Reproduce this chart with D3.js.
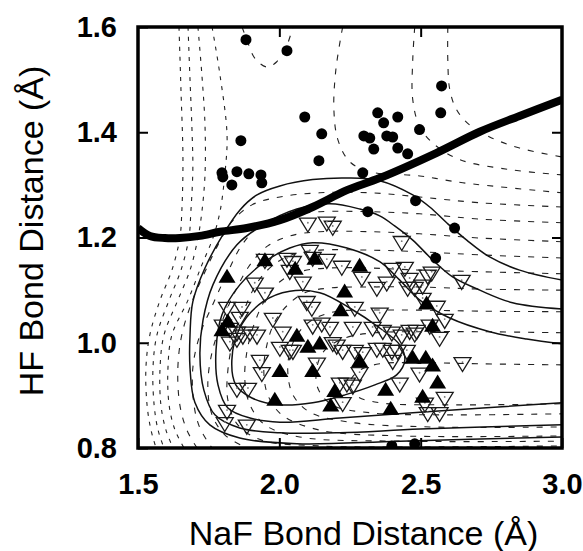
<!DOCTYPE html>
<html>
<head>
<meta charset="utf-8">
<script src="https://cdn.jsdelivr.net/npm/d3@7"></script>
<style>
  body { margin: 0; background: #fff; }
  svg { display: block; }
</style>
</head>
<body>
<svg id="chart"></svg>
<script>
// axis ticks
const xTicks = [1.5, 2.0, 2.5, 3.0];
const yTicks = [0.8, 1.0, 1.2, 1.4, 1.6];

// dividing surface (thick line), [NaF, HF] in Angstrom
const dividingLine = [[1.500,1.218],[1.542,1.203],[1.595,1.199],[1.648,1.199],[1.719,1.203],[1.790,1.211],[1.885,1.218],[2.002,1.233],[2.118,1.258],[2.239,1.290],[2.355,1.313],[2.557,1.361],[2.709,1.401],[2.850,1.431],[3.000,1.462]];

// solid contours
const solidA = [[3.000,1.119],[2.850,1.138],[2.744,1.163],[2.663,1.195],[2.592,1.228],[2.532,1.258],[2.472,1.281],[2.355,1.308],[2.239,1.313],[2.118,1.310],[2.002,1.298],[1.921,1.281],[1.860,1.252],[1.800,1.205],[1.737,1.142],[1.694,1.078],[1.684,1.015],[1.684,0.952],[1.701,0.887],[1.754,0.844],[1.860,0.819],[2.062,0.808],[2.426,0.813],[3.000,0.821]];
const solidB = [[3.000,1.064],[2.825,1.076],[2.709,1.100],[2.613,1.125],[2.543,1.157],[2.472,1.195],[2.408,1.222],[2.355,1.241],[2.285,1.254],[2.179,1.264],[2.062,1.254],[1.942,1.224],[1.850,1.186],[1.765,1.110],[1.730,1.043],[1.719,0.977],[1.733,0.910],[1.772,0.863],[1.860,0.838],[2.002,0.829],[2.214,0.829],[2.497,0.836],[3.000,0.844]];
const solidC = [[3.000,0.998],[2.875,1.007],[2.744,1.021],[2.603,1.047],[2.497,1.081],[2.426,1.119],[2.355,1.154],[2.239,1.180],[2.118,1.190],[2.037,1.180],[1.949,1.154],[1.860,1.110],[1.797,1.053],[1.776,0.986],[1.783,0.920],[1.818,0.876],[1.896,0.857],[2.002,0.849],[2.214,0.857],[2.497,0.868],[3.000,0.886]];
const solidLoop = [[1.846,0.920],[1.832,0.967],[1.860,1.028],[1.942,1.078],[2.037,1.098],[2.143,1.095],[2.249,1.066],[2.355,1.028],[2.426,0.996],[2.444,0.967],[2.415,0.939],[2.338,0.920],[2.232,0.901],[2.118,0.886],[2.002,0.882],[1.903,0.895]];

// dashed contours
const dashTopU = [[1.868,1.600],[1.885,1.576],[1.913,1.541],[1.956,1.524],[1.991,1.534],[2.023,1.560],[2.048,1.600]];
const dashUA = [[2.596,1.600],[2.596,1.538],[2.603,1.481],[2.627,1.443],[2.673,1.414],[2.744,1.391],[2.850,1.370],[3.000,1.353]];
const dashUB = [[2.479,1.600],[2.472,1.538],[2.472,1.462],[2.497,1.410],[2.550,1.376],[2.638,1.348],[2.815,1.329],[3.000,1.319]];
const dashUC = [[2.224,1.600],[2.200,1.519],[2.193,1.443],[2.207,1.386],[2.249,1.344],[2.320,1.325],[2.497,1.317],[2.649,1.304],[3.000,1.285]];
const dashCol1 = [[1.645,1.600],[1.652,1.481],[1.659,1.348],[1.655,1.249],[1.648,1.199],[1.620,1.138],[1.578,1.081],[1.542,1.015],[1.528,0.952],[1.532,0.882],[1.546,0.834],[1.564,0.800]];
const dashCol2 = [[1.677,1.600],[1.684,1.500],[1.691,1.405],[1.694,1.329],[1.687,1.249],[1.680,1.199],[1.652,1.138],[1.610,1.081],[1.567,1.015],[1.553,0.952],[1.557,0.882],[1.571,0.834],[1.592,0.800]];
const dashCol3 = [[1.712,1.600],[1.726,1.509],[1.737,1.414],[1.737,1.319],[1.726,1.249],[1.712,1.199],[1.684,1.138],[1.641,1.081],[1.592,1.015],[1.578,0.952],[1.581,0.882],[1.599,0.834],[1.624,0.800]];
const dashCol4 = [[1.762,1.600],[1.790,1.509],[1.815,1.395],[1.807,1.319],[1.790,1.249],[1.765,1.199],[1.726,1.148],[1.677,1.081],[1.620,1.015],[1.606,0.952],[1.610,0.882],[1.631,0.834],[1.663,0.800]];
const dashK8 = [[3.000,1.258],[2.709,1.266],[2.497,1.277],[2.320,1.285],[2.143,1.285],[2.002,1.277],[1.903,1.262],[1.832,1.230],[1.783,1.186],[1.737,1.135],[1.691,1.078],[1.655,1.015],[1.641,0.952],[1.648,0.882],[1.673,0.834],[1.709,0.800]];
const dashK7 = [[3.000,1.228],[2.709,1.235],[2.497,1.245],[2.320,1.249],[2.143,1.249],[2.019,1.241],[1.931,1.222],[1.868,1.186],[1.818,1.135],[1.769,1.078],[1.719,1.015],[1.694,0.952],[1.698,0.882],[1.719,0.838],[1.762,0.800]];
const dashK6 = [[3.000,1.192],[2.709,1.199],[2.497,1.207],[2.320,1.211],[2.143,1.211],[2.037,1.203],[1.959,1.184],[1.896,1.148],[1.843,1.097],[1.797,1.040],[1.762,0.982],[1.747,0.920],[1.762,0.863],[1.807,0.825],[1.878,0.802]];
const dashK5 = [[3.000,1.161],[2.709,1.167],[2.497,1.173],[2.320,1.176],[2.143,1.176],[2.055,1.169],[1.984,1.150],[1.924,1.116],[1.878,1.066],[1.839,1.009],[1.818,0.948],[1.818,0.891],[1.853,0.844],[1.938,0.815],[2.143,0.804],[2.497,0.802],[3.000,0.804]];
const dashK4 = [[3.000,1.131],[2.709,1.135],[2.497,1.138],[2.320,1.142],[2.179,1.142],[2.072,1.135],[2.002,1.116],[1.949,1.081],[1.910,1.034],[1.885,0.982],[1.878,0.929],[1.896,0.882],[1.949,0.844],[2.072,0.821],[2.426,0.813],[3.000,0.813]];
const dashK3 = [[3.000,1.100],[2.709,1.102],[2.497,1.106],[2.320,1.106],[2.179,1.104],[2.090,1.095],[2.030,1.072],[1.984,1.040],[1.956,0.996],[1.945,0.948],[1.959,0.901],[2.009,0.863],[2.143,0.834],[2.426,0.823],[3.000,0.823]];
const dashK2 = [[3.000,1.059],[2.709,1.060],[2.497,1.062],[2.320,1.062],[2.196,1.059],[2.115,1.043],[2.065,1.017],[2.037,0.982],[2.030,0.944],[2.048,0.901],[2.108,0.868],[2.249,0.849],[2.532,0.840],[3.000,0.840]];
const dashK1 = [[3.000,1.019],[2.709,1.021],[2.497,1.021],[2.338,1.019],[2.232,1.009],[2.161,0.986],[2.133,0.954],[2.136,0.914],[2.186,0.882],[2.320,0.867],[2.567,0.863],[3.000,0.865]];
const dashK0 = [[3.000,0.958],[2.709,0.960],[2.497,0.962],[2.355,0.960],[2.285,0.948],[2.249,0.924],[2.274,0.899],[2.355,0.886],[2.603,0.882],[3.000,0.884]];

// trajectory end points
const dotPts = [[1.882,1.576],[2.027,1.555],[2.090,1.429],[2.150,1.397],[1.864,1.384],[2.140,1.346],[1.797,1.323],[1.800,1.315],[1.850,1.325],[1.832,1.300],[1.892,1.321],[1.935,1.319],[1.938,1.304],[2.295,1.323],[2.348,1.437],[2.299,1.393],[2.320,1.389],[2.334,1.368],[2.574,1.488],[2.571,1.437],[2.496,1.405],[2.419,1.429],[2.369,1.418],[2.380,1.393],[2.401,1.391],[2.419,1.370],[2.454,1.359],[2.313,1.249],[2.482,1.270],[2.620,1.218],[2.553,1.161],[2.398,0.804],[2.479,0.808]];

const openTriPts = [[2.101,1.228],[2.168,1.230],[2.189,1.222],[2.433,1.193],
  [1.949,1.159],[2.027,1.161],[2.048,1.155],[2.108,1.176],[2.118,1.163],[2.168,1.159],[2.221,1.146],[2.037,1.138],[2.083,1.116],[1.913,1.114],[1.949,1.095],
  [2.292,1.125],[2.345,1.106],[2.401,1.142],[2.444,1.144],[2.461,1.123],[2.479,1.106],[2.507,1.110],[2.525,1.129],[2.539,1.135],[2.454,1.106],[2.380,1.116],[2.645,1.119],
  [2.267,1.068],[2.355,1.057],[2.507,1.085],[2.557,1.070],[2.585,1.045],[2.567,1.011],
  [1.815,1.068],[1.868,1.068],[1.860,1.049],[1.977,1.047],[2.012,1.021],[2.097,1.079],[2.115,1.068],[2.150,1.038],[2.118,1.034],[2.179,1.030],
  [1.800,1.034],[1.825,1.028],[1.850,1.021],[1.871,1.015],[1.896,1.021],[1.921,1.015],[1.825,1.002],[1.850,1.009],
  [2.048,0.986],[2.203,0.996],[2.224,0.986],[1.931,0.967],[1.938,0.944],
  [2.260,1.030],[2.330,1.030],[2.366,1.024],[2.398,1.021],[2.433,1.015],[2.461,1.024],[2.486,1.024],[2.532,1.034],[2.479,1.019],
  [2.267,0.986],[2.295,0.982],[2.345,0.990],[2.366,0.990],[2.398,0.986],[2.419,0.986],[2.451,0.986],[2.401,0.967],
  [2.002,0.992],[2.037,0.986],[2.133,0.962],[2.284,0.944],[2.189,1.001],
  [2.496,0.943],[2.648,0.963],[2.239,0.924],[2.260,0.920],[2.426,0.924],[2.585,0.897],[2.525,0.868],[2.567,0.868],[2.224,0.887],
  [1.850,0.914],[1.889,0.914],[1.815,0.872],[1.807,0.849],[1.885,0.844],[2.214,0.924],[2.515,0.886]];

const fillTriPts = [[1.949,1.154],[1.815,1.123],[2.056,1.138],[2.126,1.157],[2.284,1.144],[2.231,1.095],[2.217,1.059],[1.797,1.021],[1.818,1.038],[2.062,1.011],[2.101,0.990],[2.143,0.996],[2.002,0.944],[2.118,0.944],[1.984,0.889],[2.182,0.878],[2.196,0.906],[2.284,0.963],[2.472,0.969],[2.518,0.969],[2.542,0.954],[2.521,1.072],[2.542,1.030],[2.376,0.908],[2.560,0.922],[2.507,0.895],[2.394,0.872]];

const solidLines = [solidA, solidB, solidC];
const rightDashes = [dashTopU, dashUA, dashUB, dashUC, dashK8, dashK7, dashK6, dashK5, dashK4, dashK3, dashK2, dashK1, dashK0];
const wallDashes = [dashCol1, dashCol2, dashCol3, dashCol4];

function drawChart() {
    const width = 583, height = 551;
    const plot = { left: 138, right: 562, top: 27, bottom: 448 };
    const font = "'Liberation Sans', Arial, Helvetica, sans-serif";

    const svg = d3.select("#chart")
        .attr("width", width)
        .attr("height", height)
        .style("font-family", font);

    const x = d3.scaleLinear().domain([1.5, 3.0]).range([plot.left, plot.right]);
    const y = d3.scaleLinear().domain([0.8, 1.6]).range([plot.bottom, plot.top]);

    svg.append("clipPath").attr("id", "clip")
        .append("rect")
        .attr("x", plot.left).attr("y", plot.top)
        .attr("width", plot.right - plot.left)
        .attr("height", plot.bottom - plot.top);

    const g = svg.append("g").attr("clip-path", "url(#clip)");

    const line = d3.line()
        .x(d => x(d[0]))
        .y(d => y(d[1]))
        .curve(d3.curveCatmullRom.alpha(0.5));
    const loop = d3.line()
        .x(d => x(d[0]))
        .y(d => y(d[1]))
        .curve(d3.curveCatmullRomClosed.alpha(0.5));

    // dashed contours
    g.selectAll(".dash-r")
        .data(rightDashes)
        .enter().append("path")
        .attr("d", line)
        .attr("fill", "none")
        .attr("stroke", "#222")
        .attr("stroke-width", 1.1)
        .attr("stroke-dasharray", "6,8");

    g.selectAll(".dash-w")
        .data(wallDashes)
        .enter().append("path")
        .attr("d", line)
        .attr("fill", "none")
        .attr("stroke", "#222")
        .attr("stroke-width", 1.1)
        .attr("stroke-dasharray", "4,6");

    // solid contours
    g.selectAll(".solid")
        .data(solidLines)
        .enter().append("path")
        .attr("d", line)
        .attr("fill", "none")
        .attr("stroke", "#111")
        .attr("stroke-width", 1.5);

    g.append("path")
        .attr("d", loop(solidLoop))
        .attr("fill", "none")
        .attr("stroke", "#111")
        .attr("stroke-width", 1.5);

    // dividing surface
    g.append("path")
        .attr("d", line(dividingLine))
        .attr("fill", "none")
        .attr("stroke", "#000")
        .attr("stroke-width", 8);

    // open down-pointing triangles
    const hw = 8.5, th = 14;
    const downTri = d => {
        const cx = x(d[0]), cy = y(d[1]);
        return `M${cx - hw},${cy - th / 3}L${cx + hw},${cy - th / 3}L${cx},${cy + 2 * th / 3}Z`;
    };
    const upTri = d => {
        const cx = x(d[0]), cy = y(d[1]);
        return `M${cx - hw},${cy + th / 3}L${cx + hw},${cy + th / 3}L${cx},${cy - 2 * th / 3}Z`;
    };

    g.selectAll(".open-tri")
        .data(openTriPts)
        .enter().append("path")
        .attr("d", downTri)
        .attr("fill", "none")
        .attr("stroke", "#1a1a1a")
        .attr("stroke-width", 1.3)
        .attr("stroke-linejoin", "miter");

    g.selectAll(".open-dot")
        .data(openTriPts)
        .enter().append("circle")
        .attr("cx", d => x(d[0]))
        .attr("cy", d => y(d[1]))
        .attr("r", 0.9)
        .attr("fill", "#777");

    g.selectAll(".fill-tri")
        .data(fillTriPts)
        .enter().append("path")
        .attr("d", upTri)
        .attr("fill", "#000");

    g.selectAll(".dot")
        .data(dotPts)
        .enter().append("circle")
        .attr("cx", d => x(d[0]))
        .attr("cy", d => y(d[1]))
        .attr("r", 5.5)
        .attr("fill", "#000");

    // axes with inward ticks
    const fmt = d3.format(".1f");
    const inner = [2.0, 2.5];
    const innerY = [1.0, 1.2, 1.4];

    const xAxis = svg.append("g")
        .attr("transform", `translate(0,${plot.bottom})`)
        .call(d3.axisBottom(x).tickValues(xTicks).tickFormat(fmt).tickSize(-10).tickPadding(25));
    const yAxis = svg.append("g")
        .attr("transform", `translate(${plot.left},0)`)
        .call(d3.axisLeft(y).tickValues(yTicks).tickFormat(fmt).tickSize(-10).tickPadding(21));
    svg.append("g")
        .attr("transform", `translate(0,${plot.top})`)
        .call(d3.axisTop(x).tickValues(inner).tickFormat("").tickSize(-10));
    svg.append("g")
        .attr("transform", `translate(${plot.right},0)`)
        .call(d3.axisRight(y).tickValues(innerY).tickFormat("").tickSize(-10));

    svg.selectAll(".domain").remove();
    svg.selectAll(".tick line").attr("stroke", "#000").attr("stroke-width", 2);
    [xAxis, yAxis].forEach(a => a.selectAll("text")
        .attr("fill", "#000")
        .style("font-family", font)
        .style("font-size", "29px")
        .style("font-weight", "bold"));

    // frame
    svg.append("rect")
        .attr("x", plot.left).attr("y", plot.top)
        .attr("width", plot.right - plot.left)
        .attr("height", plot.bottom - plot.top)
        .attr("fill", "none")
        .attr("stroke", "#000")
        .attr("stroke-width", 3.5);

    // axis titles
    svg.append("text")
        .attr("x", 363.5)
        .attr("y", 545)
        .attr("text-anchor", "middle")
        .style("font-size", "34px")
        .text("NaF Bond Distance (Å)");

    svg.append("text")
        .attr("transform", "translate(43,231) rotate(-90)")
        .attr("text-anchor", "middle")
        .style("font-size", "34px")
        .text("HF Bond Distance (Å)");
}

drawChart();
</script>
</body>
</html>
